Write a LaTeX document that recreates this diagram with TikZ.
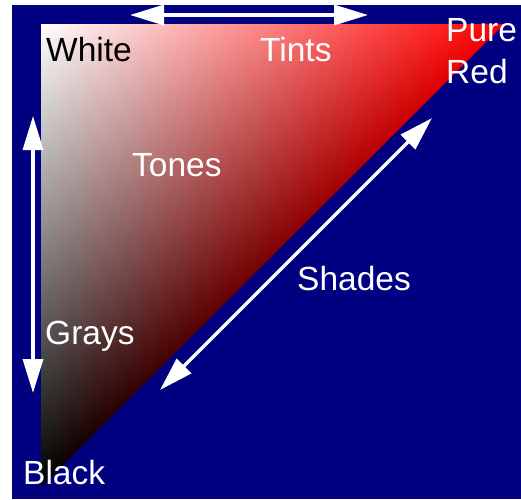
\documentclass[tikz,border=0pt]{standalone}
\usepackage{fontspec}
\setmainfont{Liberation Sans}
\usetikzlibrary{arrows.meta}
\definecolor{navybg}{RGB}{0,0,128}
\begin{document}
\begin{tikzpicture}[x=1pt,y=-1pt,
  lbl/.style={font=\fontsize{33.5}{40}\selectfont, inner sep=0pt, anchor=base west},
  wlbl/.style={lbl, text=white},
  dblarrow/.style={white, line width=3.5pt,
    {Triangle[length=34pt,width=20pt]}-{Triangle[length=34pt,width=20pt]}}]
\useasboundingbox (0,0) rectangle (521,499);
\fill[white] (0,0) rectangle (521,499);
\fill[navybg] (12,5) rectangle (521,499);
\coordinate (W) at (41,24);
\coordinate (R) at (504,24);
\coordinate (B) at (41,487);
\begin{scope}
  \clip (W) -- (R) -- (B) -- cycle;
  \foreach \i in {0,...,99} {
    \pgfmathsetmacro{\ya}{24 + \i*4.63}
    \pgfmathsetmacro{\yb}{\ya + 5.4}
    \pgfmathsetmacro{\xr}{41 + 463*(1-\i/100)}
    \pgfmathsetmacro{\p}{100*(1-(\i+0.5)/100)}
    \shade[left color=white!\p!black, right color=red!\p!black]
      (41,\ya) rectangle (\xr,\yb);
  }
\end{scope}
% arrows
\coordinate (ta1) at (130,15);
\coordinate (ta2) at (368,15);
\coordinate (la1) at (33,116);
\coordinate (la2) at (33,393);
\coordinate (da1) at (160,390);
\coordinate (da2) at (432,118);
\draw[dblarrow] (ta1) -- (ta2);
\draw[dblarrow] (la1) -- (la2);
\draw[dblarrow] (da1) -- (da2);
% labels
\node[lbl] (white) at (46,61) {White};
\node[wlbl] (tints) at (260,61) {Tints};
\node[wlbl] (pure) at (446,41) {Pure};
\node[wlbl] (red) at (446,83) {Red};
\node[wlbl] (tones) at (132,176) {Tones};
\node[wlbl] (shades) at (297,290) {Shades};
\node[wlbl] (grays) at (45,344) {Grays};
\node[wlbl] (black) at (23,484) {Black};
\end{tikzpicture}
\end{document}
